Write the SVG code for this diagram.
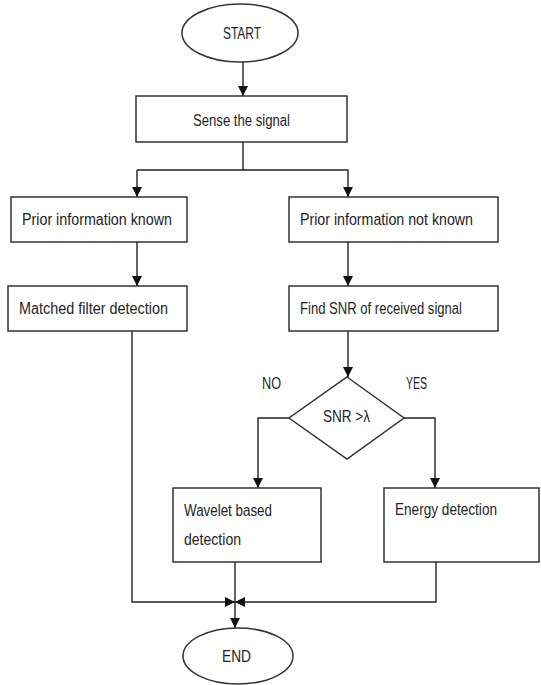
<svg xmlns="http://www.w3.org/2000/svg" width="541" height="685" viewBox="0 0 541 685">
  <defs>
    <marker id="arrow" viewBox="0 0 10 10" refX="10" refY="5" markerWidth="10" markerHeight="10" markerUnits="userSpaceOnUse" orient="auto">
      <path d="M0,0 L10,5 L0,10 Z" fill="#111"/>
    </marker>
    <style>
      .shape { fill: #fff; stroke: #333; stroke-width: 1.5; }
      .conn { fill: none; stroke: #222; stroke-width: 1.4; }
      .arr { marker-end: url(#arrow); }
      text { font-family: "Liberation Sans", Arial, sans-serif; font-size: 16px; fill: #1e1e2a; }
    </style>
  </defs>

  <rect width="541" height="685" fill="#fff"/>

  <!-- connectors -->
  <g id="connectors">
    <path class="conn arr" d="M243,62 V96"/>
    <path class="conn" d="M243,142 V170 H137"/>
    <path class="conn arr" d="M137,170 V197"/>
    <path class="conn arr" d="M243,170 H348 V197"/>
    <path class="conn arr" d="M137,242 V286"/>
    <path class="conn arr" d="M348,242 V286"/>
    <path class="conn arr" d="M348,331 V377"/>
    <path class="conn arr" d="M289,418 H258 V488"/>
    <path class="conn arr" d="M404,418 H435 V488"/>
    <path class="conn arr" d="M132,331 V602 H235"/>
    <path class="conn arr" d="M436,562 V602 H235"/>
    <path class="conn arr" d="M235,562 V628"/>
  </g>

  <!-- nodes -->
  <g id="start">
    <ellipse class="shape" cx="240" cy="33" rx="58" ry="29"/>
    <text x="223" y="39" textLength="38" lengthAdjust="spacingAndGlyphs">START</text>
  </g>
  <g id="sense">
    <rect class="shape" x="136" y="96" width="211" height="46"/>
    <text x="193" y="126" textLength="97" lengthAdjust="spacingAndGlyphs">Sense the signal</text>
  </g>
  <g id="prior-known">
    <rect class="shape" x="11" y="197" width="176" height="45"/>
    <text x="22" y="225" textLength="150" lengthAdjust="spacingAndGlyphs">Prior information  known</text>
  </g>
  <g id="prior-not-known">
    <rect class="shape" x="289" y="197" width="209" height="45"/>
    <text x="300" y="225" textLength="173" lengthAdjust="spacingAndGlyphs">Prior information  not known</text>
  </g>
  <g id="matched-filter">
    <rect class="shape" x="8" y="286" width="179" height="45"/>
    <text x="19" y="314" textLength="149" lengthAdjust="spacingAndGlyphs">Matched filter detection</text>
  </g>
  <g id="find-snr">
    <rect class="shape" x="289" y="286" width="209" height="45"/>
    <text x="300" y="314" textLength="162" lengthAdjust="spacingAndGlyphs">Find SNR of received signal</text>
  </g>
  <g id="decision">
    <polygon class="shape" points="347,377 404,418 347,459 289,418"/>
    <text x="323" y="422" textLength="47" lengthAdjust="spacingAndGlyphs">SNR &gt;λ</text>
  </g>
  <g id="label-no">
    <text x="262" y="389" textLength="19" lengthAdjust="spacingAndGlyphs">NO</text>
  </g>
  <g id="label-yes">
    <text x="406" y="389" textLength="21" lengthAdjust="spacingAndGlyphs">YES</text>
  </g>
  <g id="wavelet">
    <rect class="shape" x="173" y="488" width="148" height="74"/>
    <text x="184" y="516" textLength="88" lengthAdjust="spacingAndGlyphs">Wavelet based</text>
    <text x="184" y="545" textLength="57" lengthAdjust="spacingAndGlyphs">detection</text>
  </g>
  <g id="energy">
    <rect class="shape" x="384" y="488" width="155" height="74"/>
    <text x="395" y="515" textLength="102" lengthAdjust="spacingAndGlyphs">Energy detection</text>
  </g>
  <g id="end">
    <ellipse class="shape" cx="238" cy="656" rx="55" ry="28"/>
    <text x="222" y="662" textLength="29" lengthAdjust="spacingAndGlyphs">END</text>
  </g>
</svg>
